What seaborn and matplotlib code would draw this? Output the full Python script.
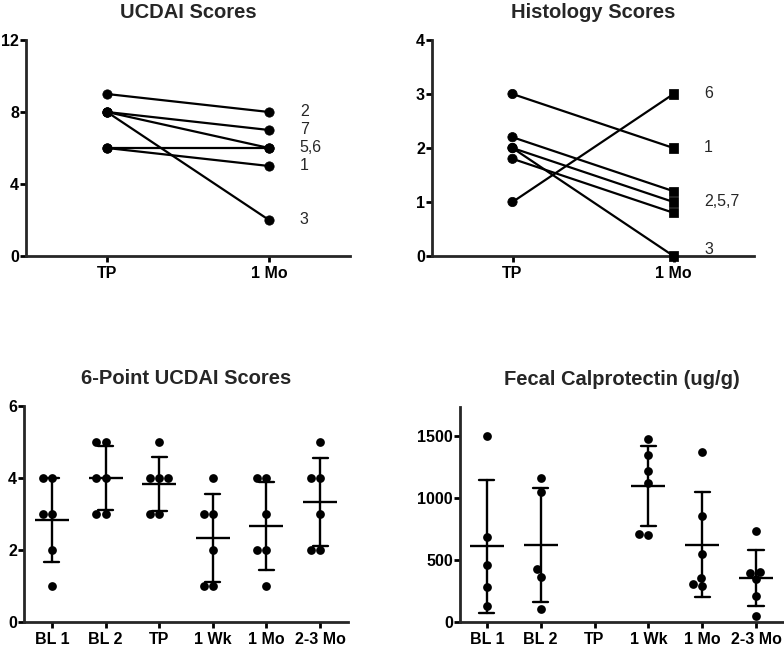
import numpy as np
import pandas as pd
import matplotlib.pyplot as plt
import seaborn as sns

# paired scores, TP -> 1 Mo
pair_times = ['TP', '1 Mo']
patients = ['1', '2', '3', '5', '6', '7']
ucdai_tp = [6, 9, 8, 8, 6, 8]
ucdai_1mo = [5, 8, 2, 6, 6, 7]
ucdai_labels = ['2', '7', '5,6', '1', '3']
ucdai_label_y = [8, 7, 6, 5, 2]

hist_tp = [3, 2.2, 2, 2, 1, 1.8]
hist_1mo = [2, 1.2, 0, 1, 3, 0.8]
hist_labels = ['6', '1', '2,5,7', '3']
hist_label_y = [3, 2, 1, 0.12]

# column scatter data
visits = ['BL 1', 'BL 2', 'TP', '1 Wk', '1 Mo', '2-3 Mo']
six_bl1 = [4, 4, 3, 3, 2, 1]
six_bl2 = [5, 5, 4, 4, 3, 3]
six_tp = [5, 4, 4, 4, 3, 3]
six_1wk = [4, 3, 3, 2, 1, 1]
six_1mo = [4, 4, 3, 2, 2, 1]
six_23mo = [5, 4, 4, 3, 2, 2]

fc_bl1 = [1500, 685, 461, 281, 127]
fc_bl2 = [1165, 1047, 429, 364, 108]
fc_tp = []
fc_1wk = [1476, 1349, 1217, 1120, 704, 712]
fc_1mo = [1373, 858, 548, 359, 289, 310]
fc_23mo = [731, 407, 397, 345, 210, 49]


def pair_df(tp, mo):
    return pd.DataFrame({
        'patient': patients * 2,
        'time': ['TP'] * len(tp) + ['1 Mo'] * len(mo),
        'score': list(tp) + list(mo),
    })


def column_df(groups):
    rows = []
    for name, vals in zip(visits, groups):
        for v in vals:
            rows.append((name, v))
    return pd.DataFrame(rows, columns=['visit', 'value'])


sns.set_theme(style='ticks')
plt.rcParams['font.family'] = ['Liberation Sans', 'DejaVu Sans']
plt.rcParams['font.weight'] = 'bold'
plt.rcParams['axes.linewidth'] = 2.0

fig = plt.figure(figsize=(7.84, 6.46), dpi=100)
W, H = 784, 646


def make_ax(x0, x1, ytop, ybot):
    return fig.add_axes([x0 / W, 1 - ybot / H, (x1 - x0) / W, (ybot - ytop) / H])


def style(ax, title):
    sns.despine(ax=ax)
    ax.set_title(title, fontsize=14.5, fontweight='bold', pad=16)
    ax.set_xlabel('')
    ax.set_ylabel('')
    ax.tick_params(direction='out', length=4.5, width=2.0, labelsize=11.5,
                   colors='black')
    ax.tick_params(axis='y', pad=0.5)
    ax.tick_params(axis='x', pad=2.5)
    for lbl in ax.get_xticklabels() + ax.get_yticklabels():
        lbl.set_fontweight('bold')


# UCDAI Scores
ax1 = make_ax(26, 350, 40, 256)
d1 = pair_df(ucdai_tp, ucdai_1mo)
sns.lineplot(data=d1, x='time', y='score', units='patient', estimator=None,
             color='black', linewidth=1.6, sort=False, ax=ax1)
sns.scatterplot(data=d1, x='time', y='score', color='black', s=45,
                marker='o', edgecolor='black', zorder=3, ax=ax1)
for lab, y in zip(ucdai_labels, ucdai_label_y):
    ax1.text(1.19, y, lab, va='center', ha='left', fontsize=11.5,
             fontweight='normal')
ax1.set_xlim(-0.5, 1.5)
ax1.set_ylim(0, 12)
ax1.set_yticks([0, 4, 8, 12])
style(ax1, 'UCDAI Scores')

# Histology Scores
ax2 = make_ax(432, 754, 40, 256)
d2 = pair_df(hist_tp, hist_1mo)
sns.lineplot(data=d2, x='time', y='score', units='patient', estimator=None,
             color='black', linewidth=1.6, sort=False, ax=ax2)
sns.scatterplot(data=d2, x='time', y='score', style='time',
                markers={'TP': 'o', '1 Mo': 's'}, color='black', s=45,
                edgecolor='black', zorder=3, legend=False, ax=ax2,
                clip_on=False)
for lab, y in zip(hist_labels, hist_label_y):
    ax2.text(1.19, y, lab, va='center', ha='left', fontsize=11.5,
             fontweight='normal')
ax2.set_xlim(-0.5, 1.5)
ax2.set_ylim(0, 4)
ax2.set_yticks([0, 1, 2, 3, 4])
style(ax2, 'Histology Scores')


def column_plot(ax, df):
    sns.swarmplot(data=df, x='visit', y='value', order=visits, color='black',
                  size=6.3, ax=ax)
    sns.pointplot(data=df, x='visit', y='value', order=visits, color='black',
                  errorbar='sd', capsize=0.28, linestyle='none', marker='_',
                  markersize=25, markeredgewidth=1.7,
                  err_kws={'linewidth': 1.7}, ax=ax)


# 6-Point UCDAI Scores
ax3 = make_ax(24, 348, 406, 622)
column_plot(ax3, column_df([six_bl1, six_bl2, six_tp, six_1wk, six_1mo, six_23mo]))
ax3.set_xlim(-0.52, 5.52)
ax3.set_ylim(0, 6)
ax3.set_yticks([0, 2, 4, 6])
style(ax3, '6-Point UCDAI Scores')

# Fecal Calprotectin
ax4 = make_ax(460, 784, 407, 622)
column_plot(ax4, column_df([fc_bl1, fc_bl2, fc_tp, fc_1wk, fc_1mo, fc_23mo]))
ax4.set_xlim(-0.5, 5.52)
ax4.set_ylim(0, 1735)
ax4.set_yticks([0, 500, 1000, 1500])
style(ax4, 'Fecal Calprotectin (ug/g)')

fig.savefig('out.png', dpi=100)
